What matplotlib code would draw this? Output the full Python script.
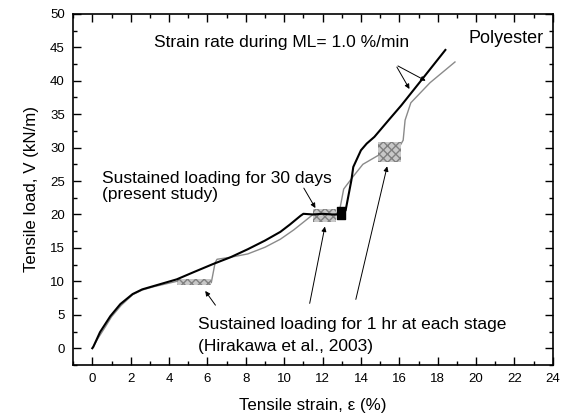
import matplotlib
matplotlib.use("Agg")
import matplotlib.pyplot as plt
from matplotlib.ticker import MultipleLocator

plt.rcParams['font.family'] = ['Liberation Sans', 'DejaVu Sans']

# Present study (black)
present_strain = [0.0, 0.05, 0.4, 0.94, 1.46, 2.1, 2.6, 3.2, 4.4, 5.3, 6.3, 7.2, 8.1,
                  9.0, 9.8, 10.3, 10.85, 11.0, 11.5, 12.0, 12.5, 12.8, 13.0, 13.2,
                  13.5, 13.6, 14.0, 14.3, 14.7, 15.5, 16.1, 16.6, 17.1, 18.4]
present_load = [0.0, 0.2, 2.4, 4.8, 6.6, 8.1, 8.8, 9.3, 10.3, 11.4, 12.6, 13.6, 14.8,
                16.1, 17.4, 18.5, 19.8, 20.1, 20.0, 20.1, 20.0, 20.0, 20.1, 20.6,
                25.1, 27.1, 29.6, 30.6, 31.6, 34.3, 36.3, 38.1, 39.9, 44.6]

# Hirakawa et al. (2003) (gray)
hira_strain = [0.0, 0.3, 0.7, 1.0, 1.5, 2.1, 2.6, 3.2, 4.4, 5.0, 5.6, 6.2, 6.4, 6.5,
               7.2, 8.1, 9.0, 9.8, 10.5, 11.2, 11.5, 12.0, 12.7, 12.9, 13.1, 13.6,
               14.1, 15.0, 15.4, 16.0, 16.2, 16.3, 16.6, 17.0, 17.6, 18.9]
hira_load = [0.0, 1.5, 3.3, 4.7, 6.4, 8.0, 8.7, 9.2, 10.0, 9.8, 9.9, 9.8, 12.8, 13.3,
             13.6, 14.1, 15.1, 16.3, 17.7, 19.3, 20.0, 19.8, 20.0, 20.8, 23.8, 25.7,
             27.5, 29.0, 29.8, 30.1, 31.1, 34.1, 36.7, 37.9, 39.7, 42.8]

# sustained-loading bands: (strain_start, strain_end, load_low, load_high)
gray_bands = [(4.4, 6.2, 9.5, 10.3), (11.5, 12.7, 18.9, 20.8), (14.9, 16.1, 27.8, 30.8)]
black_band = (12.75, 13.15, 19.3, 21.1)

fig = plt.figure(figsize=(5.67, 4.19), dpi=100)
ax = fig.add_axes([0.129, 0.129, 0.846, 0.838])

ax.plot(hira_strain, hira_load, color='#8a8a8a', lw=1.0, zorder=2)
for x0, x1, y0, y1 in gray_bands:
    ax.fill_between([x0, x1], [y0, y0], [y1, y1], facecolor='#c8c8c8',
                    edgecolor='#808080', hatch='xxxx', lw=0, zorder=2)
ax.plot(present_strain, present_load, color='black', lw=1.5, zorder=3)
bx0, bx1, by0, by1 = black_band
ax.fill_between([bx0, bx1], [by0, by0], [by1, by1], color='black', zorder=3)

ax.set_xlim(-1, 24)
ax.set_ylim(-2.5, 50)
ax.xaxis.set_major_locator(MultipleLocator(2))
ax.xaxis.set_minor_locator(MultipleLocator(1))
ax.yaxis.set_major_locator(MultipleLocator(5))
ax.yaxis.set_minor_locator(MultipleLocator(2.5))
ax.tick_params(which='both', direction='in', top=True, right=True, labelsize=9.5)
ax.tick_params(which='major', length=6, width=1, pad=6)
ax.tick_params(which='minor', length=3, width=1)
for s in ax.spines.values():
    s.set_linewidth(1.2)

ax.set_xlabel('Tensile strain, \u03b5 (%)', fontsize=12.2, labelpad=9)
ax.set_ylabel('Tensile load, V (kN/m)', fontsize=12.2, labelpad=8)

fs = 12.5
ax.text(19.6, 46.3, 'Polyester', fontsize=13, va='center', ha='left')
ax.text(3.2, 45.7, 'Strain rate during ML= 1.0 %/min', fontsize=fs, va='center', ha='left')
ap = dict(arrowstyle='-|>', color='black', lw=0.7, mutation_scale=7)
ax.annotate('', xy=(16.6, 38.4), xytext=(15.8, 42.4), arrowprops=ap)
ax.annotate('', xy=(17.5, 39.8), xytext=(15.8, 42.4), arrowprops=ap)

ax.text(0.5, 25.4, 'Sustained loading for 30 days', fontsize=fs, va='center', ha='left')
ax.text(0.5, 23.0, '(present study)', fontsize=fs, va='center', ha='left')
ax.annotate('', xy=(11.7, 20.6), xytext=(10.95, 24.3), arrowprops=ap)

ax.text(5.5, 3.6, 'Sustained loading for 1 hr at each stage', fontsize=fs, va='center', ha='left')
ax.text(5.5, 0.3, '(Hirakawa et al., 2003)', fontsize=fs, va='center', ha='left')
ax.annotate('', xy=(5.8, 8.9), xytext=(6.5, 6.1), arrowprops=ap)
ax.annotate('', xy=(12.15, 18.6), xytext=(11.3, 6.3), arrowprops=ap)
ax.annotate('', xy=(15.4, 27.6), xytext=(13.7, 6.9), arrowprops=ap)

fig.savefig('out.png', dpi=100)
